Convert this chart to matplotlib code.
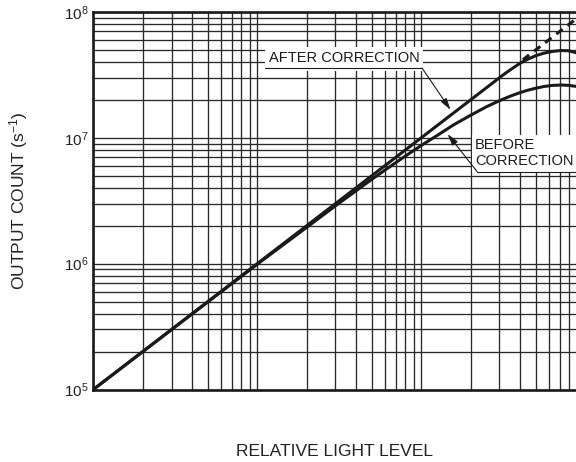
import matplotlib
matplotlib.use("Agg")
import matplotlib.pyplot as plt
from matplotlib.ticker import LogLocator, NullFormatter
from matplotlib.patches import Rectangle
from matplotlib.lines import Line2D

plt.rcParams['font.family'] = ['Liberation Sans', 'DejaVu Sans']
plt.rcParams['mathtext.fontset'] = 'custom'
plt.rcParams['mathtext.rm'] = 'Liberation Sans'
plt.rcParams['mathtext.it'] = 'Liberation Sans'

# ---- data ----
light_after = [1, 10, 100, 316, 355, 398, 447, 501, 562, 631, 708, 794, 891]
count_after = [1.0e5, 1.0e6, 1.0e7, 3.16e7, 3.52e7, 3.89e7, 4.22e7, 4.50e7,
               4.71e7, 4.86e7, 4.94e7, 4.92e7, 4.73e7]

light_before = [1, 10, 20, 31.6, 50, 63, 79.4, 100, 126, 158, 200, 251, 282,
                316, 355, 398, 447, 501, 562, 631, 724, 794, 891]
count_before = [1.0e5, 9.9e5, 1.94e6, 3.03e6, 4.68e6, 5.78e6, 7.11e6, 8.69e6,
                1.05e7, 1.27e7, 1.51e7, 1.77e7, 1.90e7, 2.03e7, 2.16e7, 2.28e7,
                2.39e7, 2.48e7, 2.56e7, 2.61e7, 2.63e7, 2.61e7, 2.56e7]

light_ideal = [417, 912]
count_ideal = [4.17e7, 9.12e7]

x_limits = (1, 880)
y_limits = (1e5, 1e8)

W, H = 576, 462
fig = plt.figure(figsize=(W / 100, H / 100), dpi=100)
ax = fig.add_axes([93.3 / W, 1 - 389.5 / H, (W - 93.3) / W, (389.5 - 12) / H])

ax.set_xscale('log')
ax.set_yscale('log')
ax.set_xlim(*x_limits)
ax.set_ylim(*y_limits)

grid_color = '#2a2a2a'
ax.xaxis.set_major_locator(LogLocator(base=10, numticks=10))
ax.xaxis.set_minor_locator(LogLocator(base=10, subs=range(2, 10), numticks=20))
ax.yaxis.set_major_locator(LogLocator(base=10, numticks=10))
ax.yaxis.set_minor_locator(LogLocator(base=10, subs=range(2, 10), numticks=20))
ax.xaxis.set_major_formatter(NullFormatter())
ax.xaxis.set_minor_formatter(NullFormatter())
ax.yaxis.set_minor_formatter(NullFormatter())
ax.grid(True, which='both', color=grid_color, linewidth=0.95)
ax.tick_params(which='both', length=0)
ax.tick_params(axis='y', labelsize=11, pad=3.5, colors='#222222')

for s in ['left', 'bottom', 'top']:
    ax.spines[s].set_linewidth(1.9)
    ax.spines[s].set_color('#1a1a1a')
ax.spines['right'].set_visible(False)

lc = '#1a1a1a'
ax.plot(light_after, count_after, color=lc, lw=2.2, solid_capstyle='butt', zorder=4)
ax.plot(light_before, count_before, color=lc, lw=2.2, solid_capstyle='butt', zorder=4)
ax.plot(light_ideal, count_ideal, color=lc, lw=2.2, dashes=(2.6, 2.0), zorder=4)

ax.set_xlabel('RELATIVE LIGHT LEVEL', fontsize=12.5, color='#222222', va='center')
ax.xaxis.set_label_coords(0.5, -(451 - 389.5) / (389.5 - 12))
ax.set_ylabel(r'OUTPUT COUNT (s$^{\mathdefault{-1}}$)', fontsize=12.5, color='#222222', va='center')
ax.yaxis.set_label_coords((19 - 93.3) / (W - 93.3), 0.5)


def fx(px):
    return px / W


def fy(py):
    return 1 - py / H


# label backgrounds
ax.add_patch(Rectangle((fx(265), fy(71)), fx(423) - fx(265), fy(47) - fy(71),
                       transform=fig.transFigure, facecolor='white', edgecolor='none', zorder=3))
ax.add_patch(Rectangle((fx(472), fy(172)), fx(580) - fx(472), fy(135) - fy(172),
                       transform=fig.transFigure, facecolor='white', edgecolor='none', zorder=3))

ax.text(fx(344), fy(58), 'AFTER CORRECTION', transform=fig.transFigure, ha='center',
        va='center', fontsize=10.5, color='#1a1a1a', zorder=5)
ax.text(fx(475), fy(153), 'BEFORE\nCORRECTION', transform=fig.transFigure, ha='left',
        va='center', fontsize=10.5, color='#1a1a1a', linespacing=1.15, zorder=5)

# underlines
ax.add_line(Line2D([fx(265), fx(422)], [fy(68), fy(68)], transform=fig.transFigure,
                   color='#1a1a1a', lw=0.8, zorder=5))
ax.add_line(Line2D([fx(477), fx(580)], [fy(171.5), fy(171.5)], transform=fig.transFigure,
                   color='#1a1a1a', lw=0.8, zorder=5))

arrow = dict(arrowstyle='-|>,head_length=0.7,head_width=0.2', color='#1a1a1a', lw=0.8,
             shrinkA=0, shrinkB=0)
ax.annotate('', xy=(151, 1.67e7), xycoords='data',
            xytext=(fx(422), fy(68)), textcoords='figure fraction', arrowprops=arrow, zorder=6)
ax.annotate('', xy=(145, 1.07e7), xycoords='data',
            xytext=(fx(477), fy(171.5)), textcoords='figure fraction', arrowprops=arrow, zorder=6)

fig.savefig('out.png', dpi=100)
